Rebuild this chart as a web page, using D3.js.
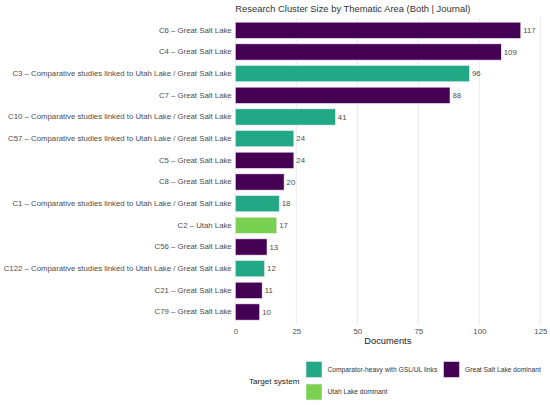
<!DOCTYPE html>
<html>
<head>
<meta charset="utf-8">
<script src="https://cdn.jsdelivr.net/npm/d3@7"></script>
<style>
  body { margin: 0; background: #fff; }
  text { font-family: "Liberation Sans", Arial, sans-serif; }
</style>
</head>
<body>
<div id="viz"></div>
<script>
// Data
var CLUSTERS = [
  "C6 – Great Salt Lake",
  "C4 – Great Salt Lake",
  "C3 – Comparative studies linked to Utah Lake / Great Salt Lake",
  "C7 – Great Salt Lake",
  "C10 – Comparative studies linked to Utah Lake / Great Salt Lake",
  "C57 – Comparative studies linked to Utah Lake / Great Salt Lake",
  "C5 – Great Salt Lake",
  "C8 – Great Salt Lake",
  "C1 – Comparative studies linked to Utah Lake / Great Salt Lake",
  "C2 – Utah Lake",
  "C56 – Great Salt Lake",
  "C122 – Comparative studies linked to Utah Lake / Great Salt Lake",
  "C21 – Great Salt Lake",
  "C79 – Great Salt Lake"
];
var DOCUMENTS = [117, 109, 96, 88, 41, 24, 24, 20, 18, 17, 13, 12, 11, 10];
var SYSTEMS = [
  "Great Salt Lake dominant", "Great Salt Lake dominant",
  "Comparator-heavy with GSL/UL links", "Great Salt Lake dominant",
  "Comparator-heavy with GSL/UL links", "Comparator-heavy with GSL/UL links",
  "Great Salt Lake dominant", "Great Salt Lake dominant",
  "Comparator-heavy with GSL/UL links", "Utah Lake dominant",
  "Great Salt Lake dominant", "Comparator-heavy with GSL/UL links",
  "Great Salt Lake dominant", "Great Salt Lake dominant"
];
var SYSTEM_NAMES = ["Comparator-heavy with GSL/UL links", "Utah Lake dominant", "Great Salt Lake dominant"];
var SYSTEM_COLORS = ["#22a884", "#7ad151", "#440154"];
var X_TICKS = [0, 25, 50, 75, 100, 125];

var W = 550, H = 405;
var LEFT = 235.3, RIGHT = 540.3, TOP = 17.3, BOTTOM = 325;
var FONT = "Liberation Sans, Arial, sans-serif";

var svg = d3.select("#viz").append("svg")
    .attr("width", W)
    .attr("height", H);

var rows = CLUSTERS.map(function(c, i){
  return { name: c, value: DOCUMENTS[i], system: SYSTEMS[i] };
});

// Scales
var x = d3.scaleLinear().domain([0, 125]).range([LEFT, RIGHT]);
var y = d3.scaleBand().domain(CLUSTERS).range([TOP, BOTTOM]).paddingInner(0.25).paddingOuter(0.225);
var color = d3.scaleOrdinal().domain(SYSTEM_NAMES).range(SYSTEM_COLORS);

// Gridlines
svg.append("g").selectAll("line")
    .data(X_TICKS)
    .enter()
    .append("line")
    .attr("x1", function(d){ return x(d); })
    .attr("x2", function(d){ return x(d); })
    .attr("y1", TOP)
    .attr("y2", BOTTOM)
    .attr("stroke", "#ebebeb")
    .attr("stroke-width", 1);

// Title
svg.append("text")
    .attr("x", LEFT)
    .attr("y", 11.5)
    .attr("font-size", 9.4)
    .attr("fill", "#333")
    .text("Research Cluster Size by Thematic Area (Both | Journal)");

// Bars
svg.append("g").selectAll("rect")
    .data(rows)
    .enter()
    .append("rect")
    .attr("x", x(0))
    .attr("y", function(d){ return y(d.name); })
    .attr("width", function(d){ return x(d.value) - x(0); })
    .attr("height", y.bandwidth())
    .attr("fill", function(d){ return color(d.system); })
    .attr("stroke", "#f2eaf4")
    .attr("stroke-width", 0.6);

// Value labels
svg.append("g").selectAll("text")
    .data(rows)
    .enter()
    .append("text")
    .attr("x", function(d){ return x(d.value) + 2.5; })
    .attr("y", function(d){ return y(d.name) + y.bandwidth() / 2; })
    .attr("dy", "0.35em")
    .attr("font-size", 7.8)
    .attr("fill", "#4d4d4d")
    .text(function(d){ return d.value; });

// Y axis labels
var yAxis = d3.axisLeft(y).tickSize(0).tickPadding(3.6);
var gy = svg.append("g")
    .attr("transform", "translate(" + LEFT + ",0)")
    .call(yAxis);
gy.select(".domain").remove();
gy.selectAll("text")
    .attr("font-size", 7.8)
    .attr("font-family", FONT)
    .attr("fill", "#4d4d4d");

// X axis labels
var xAxis = d3.axisBottom(x).tickValues(X_TICKS).tickSize(0).tickPadding(3);
var gx = svg.append("g")
    .attr("transform", "translate(0," + BOTTOM + ")")
    .call(xAxis);
gx.select(".domain").remove();
gx.selectAll("text")
    .attr("font-size", 7.8)
    .attr("font-family", FONT)
    .attr("fill", "#4d4d4d");

svg.append("text")
    .attr("x", (LEFT + RIGHT) / 2)
    .attr("y", 344)
    .attr("text-anchor", "middle")
    .attr("font-size", 9.3)
    .attr("fill", "#1a1a1a")
    .text("Documents");

// Legend
var legend = svg.append("g");
legend.append("text")
    .attr("x", 249)
    .attr("y", 383.5)
    .attr("font-size", 8.1)
    .attr("fill", "#1a1a1a")
    .text("Target system");

var keyPos = [
  { x: 306, y: 361.5 },
  { x: 306, y: 384 },
  { x: 443.5, y: 361.5 }
];
var keys = legend.selectAll("g.key")
    .data(SYSTEM_NAMES)
    .enter()
    .append("g")
    .attr("class", "key")
    .attr("transform", function(d, i){
      return "translate(" + keyPos[i].x + "," + keyPos[i].y + ")";
    });
keys.append("rect")
    .attr("width", 16)
    .attr("height", 16)
    .attr("fill", function(d){ return color(d); })
    .attr("stroke", "#f2eaf4")
    .attr("stroke-width", 0.6);
keys.append("text")
    .attr("x", 21.5)
    .attr("y", 8)
    .attr("dy", "0.35em")
    .attr("font-size", 6.7)
    .attr("fill", "#333")
    .text(function(d){ return d; });
</script>
</body>
</html>
